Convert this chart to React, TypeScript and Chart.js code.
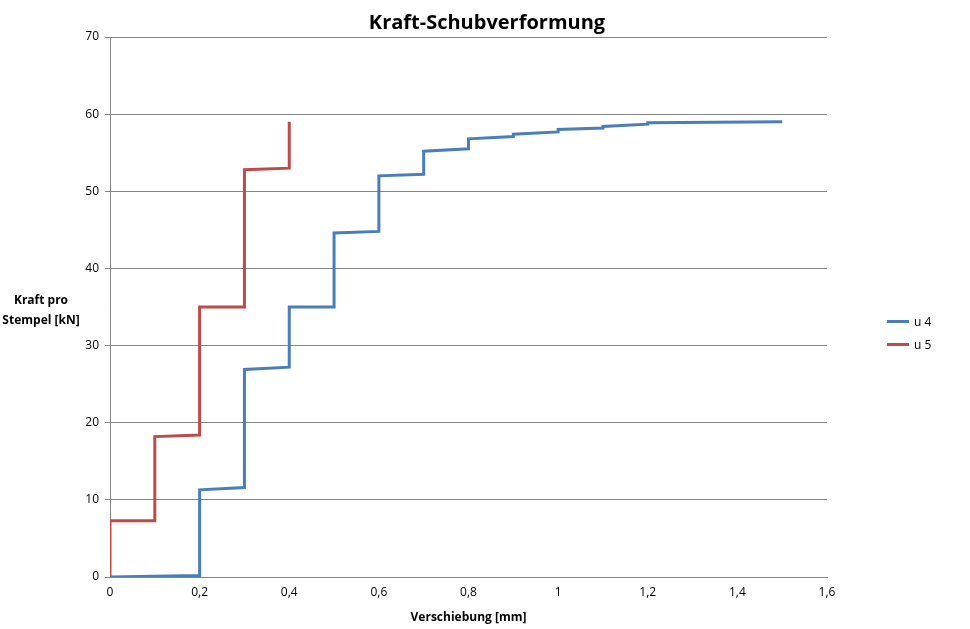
import { useEffect, useRef } from 'react';
import Chart from 'chart.js/auto';

const u4X = [0, 0.2, 0.2, 0.3, 0.3, 0.4, 0.4, 0.5, 0.5, 0.6, 0.6, 0.7, 0.7, 0.8, 0.8, 0.9, 0.9, 1.0, 1.0, 1.1, 1.1, 1.2, 1.2, 1.5];
const u4Y = [0, 0.2, 11.3, 11.6, 26.9, 27.2, 35, 35, 44.6, 44.8, 52, 52.2, 55.2, 55.5, 56.8, 57.1, 57.4, 57.7, 58, 58.2, 58.4, 58.7, 58.9, 59];
const u5X = [0, 0, 0.1, 0.1, 0.2, 0.2, 0.3, 0.3, 0.4, 0.4];
const u5Y = [0, 7.3, 7.3, 18.2, 18.4, 35, 35, 52.8, 53, 59];

const BLUE = '#4a7ebb';
const RED = '#be4b48';
const FONT = '"Open Sans", "Liberation Sans", sans-serif';

const toPoints = (xs: number[], ys: number[]) => xs.map((x, i) => ({ x, y: ys[i] }));
const fmt = (v: number) => String(Math.round(v * 10) / 10).replace('.', ',');

const App = () => {
  const ref = useRef<HTMLCanvasElement>(null);
  useEffect(() => {
    if (!ref.current) return;
    const chart = new Chart(ref.current, {
      type: 'scatter',
      data: {
        datasets: [
          { label: 'u 4', data: toPoints(u4X, u4Y), showLine: true, borderColor: BLUE, borderWidth: 3, pointRadius: 0 },
          { label: 'u 5', data: toPoints(u5X, u5Y), showLine: true, borderColor: RED, borderWidth: 3, pointRadius: 0 },
        ],
      },
      options: {
        animation: false,
        responsive: false,
        layout: { padding: { left: 0, right: 143, top: 37, bottom: 0 } },
        plugins: {
          legend: { display: false },
          tooltip: { enabled: false },
        },
        scales: {
          x: {
            type: 'linear', min: 0, max: 1.6,
            ticks: { stepSize: 0.2, color: '#000', font: { family: FONT, size: 12 }, callback: (v) => fmt(Number(v)) },
            grid: { display: false, drawTicks: true, tickLength: 5, color: '#868686' },
            border: { color: '#868686' },
            title: { display: true, text: 'Verschiebung [mm]', color: '#000', font: { family: FONT, size: 12, weight: 'bold' }, padding: { top: 2 } },
            afterFit: (s) => { s.height = 52; },
          },
          y: {
            type: 'linear', min: 0, max: 70,
            ticks: { stepSize: 10, color: '#000', font: { family: FONT, size: 12 }, padding: 6 },
            grid: { color: '#868686', tickLength: 5 },
            border: { color: '#868686' },
            afterFit: (s) => { s.width = 110; },
          },
        },
      },
    });
    return () => chart.destroy();
  }, []);

  const legendItem = (label: string, color: string) => (
    <div style={{ display: 'flex', alignItems: 'center', height: 23 }}>
      <div style={{ width: 22, height: 3, background: color, marginRight: 5 }} />
      <span>{label}</span>
    </div>
  );

  return (
    <div style={{ position: 'fixed', left: 0, top: 0, width: 970, height: 629, background: '#fff', fontFamily: FONT, fontSize: 12 }}>
      <canvas ref={ref} width={970} height={629} />
      <div style={{ position: 'absolute', left: 0, top: 8, width: 974, textAlign: 'center', fontWeight: 'bold', fontSize: 20 }}>
        Kraft-Schubverformung
      </div>
      <div style={{ position: 'absolute', left: 0, top: 290, width: 82, textAlign: 'center', fontWeight: 'bold', lineHeight: '20px' }}>
        Kraft pro<br />Stempel [kN]
      </div>
      <div style={{ position: 'absolute', left: 887, top: 310 }}>
        {legendItem('u 4', BLUE)}
        {legendItem('u 5', RED)}
      </div>
    </div>
  );
};

export default App;
